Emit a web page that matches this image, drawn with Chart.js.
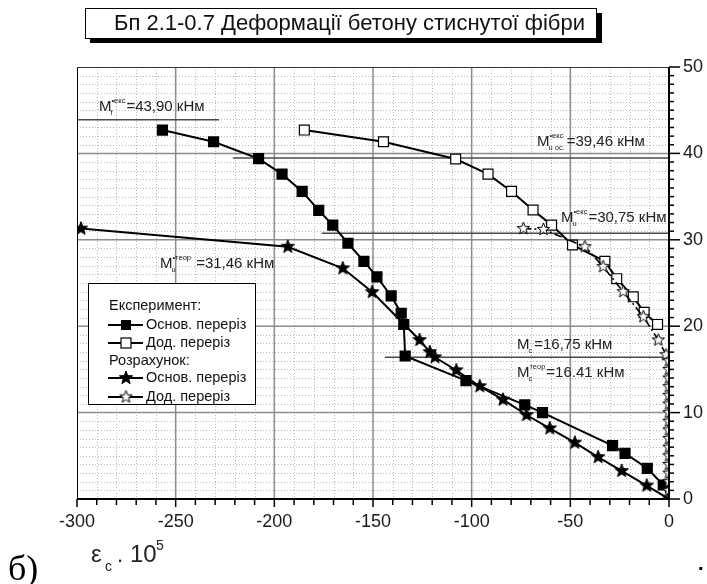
<!DOCTYPE html>
<html><head><meta charset="utf-8">
<script src="https://cdn.jsdelivr.net/npm/chart.js@4.4.1/dist/chart.umd.min.js"></script>
<style>html,body{margin:0;padding:0;background:#fff;}#wrap{position:relative;width:707px;height:584px;}</style>
</head><body><div id="wrap"><canvas id="c" width="707" height="584"></canvas></div>
<script>
// ---- data (x = εc·10^5, y = M, кНм) ----
const titleText = 'Бп 2.1-0.7 Деформації бетону стиснутої фібри';
const xTickLabels = [-300, -250, -200, -150, -100, -50, 0];
const yTickLabels = [0, 10, 20, 30, 40, 50];

const expMainX = [-256.7,-230.8,-208.0,-196.1,-185.9,-177.5,-170.4,-162.7,-154.6,-148.0,-140.8,-135.7,-134.4,-133.7,-102.9,-73.1,-64.1,-28.6,-22.3,-11.0,-2.9,0];
const expMainY = [42.7,41.35,39.4,37.6,35.6,33.4,31.7,29.6,27.5,25.7,23.5,21.5,20.2,16.55,13.7,10.9,10.0,6.17,5.29,3.55,1.62,0];

const expAddX = [-184.8,-144.7,-108.1,-91.7,-79.8,-68.9,-59.5,-48.9,-32.5,-26.5,-18.1,-12.6,-5.8];
const expAddY = [42.7,41.35,39.35,37.6,35.6,33.45,31.7,29.4,27.5,25.5,23.4,21.6,20.2];

const calcMainX = [-298,-193.2,-165.3,-150.4,-126.4,-121.2,-118.6,-107.8,-95.9,-84.1,-72.2,-60.4,-47.7,-35.9,-24.0,-11.3,0];
const calcMainY = [31.3,29.2,26.7,23.95,18.4,17.0,16.4,14.9,13.05,11.5,9.72,8.18,6.52,4.85,3.25,1.55,0];

const calcAddX = [-73.8,-63.6,-42.6,-33.4,-23.2,-13.0,-5.4,-1.5,0,0,0,0,0,0,0,0,0,0,0,0,0,0,0,0,0];
const calcAddY = [31.3,31.2,29.2,26.9,24.0,21.1,18.4,16.7,16,15,14,13,12,11,10,9,8,7,6,5,4,3,2,1,0];

// horizontal reference levels (кНм) and their x extents
const refLevels = [43.90, 39.46, 30.75, 16.41];
const refFromX  = [-300, -221, -176, -144];
const refToX    = [-228, 0, 0, 0];

const legendGroups = ['Експеримент:', 'Розрахунок:'];
const legendNames = ['Основ. перерiз', 'Дод. перерiз', 'Основ. перерiз', 'Дод. перерiз'];

const zip = (xs, ys) => xs.map((x, i) => ({x, y: ys[i]}));

function makeStar(filled, R) {
  const s = Math.ceil(R * 2 + 4);
  const c = document.createElement('canvas');
  c.width = s; c.height = s;
  const g = c.getContext('2d');
  g.beginPath();
  for (let i = 0; i < 10; i++) {
    const a = -Math.PI / 2 + i * Math.PI / 5;
    const r = i % 2 ? R * 0.42 : R;
    const px = s / 2 + r * Math.cos(a), py = s / 2 + r * Math.sin(a);
    if (i === 0) g.moveTo(px, py); else g.lineTo(px, py);
  }
  g.closePath();
  g.fillStyle = filled ? '#000' : '#fff';
  g.fill();
  g.lineWidth = 1; g.strokeStyle = '#000'; g.stroke();
  return c;
}
const starFilled = makeStar(true, 7);
const starOpen = makeStar(false, 6.5);

const FONT = '"Liberation Sans", Arial, sans-serif';

const datasets = [
  {data: zip(expMainX, expMainY), showLine: true, borderColor: '#000', borderWidth: 2,
   pointStyle: 'rect', pointRadius: expMainX.map((x, i) => i === expMainX.length - 1 ? 0 : 6.5),
   pointBackgroundColor: '#000', pointBorderColor: '#000', order: 1, clip: 0},
  {data: zip(expAddX, expAddY), showLine: true, borderColor: '#000', borderWidth: 2,
   pointStyle: 'rect', pointRadius: 7, pointBackgroundColor: '#fff', pointBorderColor: '#000', pointBorderWidth: 1.2, order: 2, clip: 0},
  {data: zip(calcMainX, calcMainY), showLine: true, borderColor: '#000', borderWidth: 2,
   pointStyle: starFilled, pointRadius: calcMainX.map((x, i) => i === calcMainX.length - 1 ? 0 : 7), order: 0, clip: 0},
  {data: zip(calcAddX, calcAddY), showLine: true, borderColor: '#000', borderWidth: 1.6, borderDash: [8, 3, 2, 3],
   pointStyle: starOpen, pointRadius: 7, order: 0, clip: 0},
];
refLevels.forEach((lv, i) => {
  datasets.push({data: [{x: refFromX[i], y: lv}, {x: refToX[i], y: lv}], showLine: true,
    borderColor: '#4a4a4a', borderWidth: 1.6, pointRadius: 0, order: 10, clip: 0});
});

const gridPlugin = {
  id: 'gridPlugin',
  beforeDatasetsDraw(chart) {
    const {ctx, chartArea: a, scales: {x, y}} = chart;
    ctx.save();
    ctx.lineWidth = 1; ctx.strokeStyle = '#b8b8b8'; ctx.setLineDash([1, 2]);
    for (let v = -290; v < 0; v += 10) {
      if (v % 50 === 0) continue;
      const px = Math.round(x.getPixelForValue(v)) + 0.5;
      ctx.beginPath(); ctx.moveTo(px, a.top); ctx.lineTo(px, a.bottom); ctx.stroke();
    }
    for (let v = 1; v < 50; v++) {
      if (v % 10 === 0) continue;
      const py = Math.round(y.getPixelForValue(v)) + 0.5;
      ctx.beginPath(); ctx.moveTo(a.left, py); ctx.lineTo(a.right, py); ctx.stroke();
    }
    ctx.setLineDash([]); ctx.strokeStyle = '#8c8c8c'; ctx.lineWidth = 1.5;
    for (let v = -250; v < 0; v += 50) {
      const px = x.getPixelForValue(v);
      ctx.beginPath(); ctx.moveTo(px, a.top); ctx.lineTo(px, a.bottom); ctx.stroke();
    }
    for (let v = 10; v < 50; v += 10) {
      const py = y.getPixelForValue(v);
      ctx.beginPath(); ctx.moveTo(a.left, py); ctx.lineTo(a.right, py); ctx.stroke();
    }
    ctx.restore();
  },
  afterDatasetsDraw(chart) {
    const {ctx, chartArea: a, scales: {x, y}} = chart;
    ctx.save();
    ctx.strokeStyle = '#000';
    ctx.lineWidth = 1;
    ctx.beginPath(); ctx.moveTo(a.left + 0.5, a.top); ctx.lineTo(a.left + 0.5, a.bottom); ctx.stroke();
    ctx.strokeStyle = '#333';
    ctx.beginPath(); ctx.moveTo(a.left, a.top + 0.5); ctx.lineTo(a.right, a.top + 0.5); ctx.stroke();
    ctx.strokeStyle = '#000'; ctx.lineWidth = 2;
    ctx.beginPath(); ctx.moveTo(a.left, a.bottom); ctx.lineTo(a.right + 1, a.bottom); ctx.stroke();
    ctx.beginPath(); ctx.moveTo(a.right, a.top); ctx.lineTo(a.right, a.bottom + 1); ctx.stroke();
    ctx.lineWidth = 1.5;
    for (let v = -300; v <= 0; v += 10) {
      const px = x.getPixelForValue(v);
      ctx.beginPath(); ctx.moveTo(px, a.bottom); ctx.lineTo(px, a.bottom + (v % 50 === 0 ? 8 : 6)); ctx.stroke();
    }
    for (let v = 0; v <= 50; v++) {
      const py = y.getPixelForValue(v);
      ctx.beginPath(); ctx.moveTo(a.right, py); ctx.lineTo(a.right + (v % 10 === 0 ? 11 : 5), py); ctx.stroke();
    }
    ctx.restore();
  }
};

function drawM(ctx, x, y, sup, sub, rest) {
  ctx.save();
  ctx.fillStyle = '#222';
  ctx.textBaseline = 'middle'; ctx.textAlign = 'left';
  ctx.font = '15px ' + FONT;
  ctx.fillText('M', x, y);
  const w = ctx.measureText('M').width;
  ctx.font = '7.5px ' + FONT;
  let sw = 0, bw = 0;
  if (sup) { ctx.fillText(sup, x + w, y - 6); sw = ctx.measureText(sup).width; }
  if (sub) { ctx.fillText(sub, x + w - 1, y + 6); bw = ctx.measureText(sub).width; }
  ctx.font = '15px ' + FONT;
  ctx.fillText(rest, x + w + Math.max(sw, bw) + 1, y);
  ctx.restore();
}

const textPlugin = {
  id: 'textPlugin',
  afterDraw(chart) {
    const ctx = chart.ctx;
    ctx.save();
    // title box
    ctx.fillStyle = '#000';
    ctx.fillRect(90, 13, 512, 30);
    ctx.fillStyle = '#fff';
    ctx.fillRect(85, 8, 512, 31);
    ctx.strokeStyle = '#000'; ctx.lineWidth = 1;
    ctx.strokeRect(85.5, 8.5, 511, 30);
    ctx.fillStyle = '#111';
    ctx.font = '22px ' + FONT;
    ctx.textBaseline = 'middle'; ctx.textAlign = 'left';
    ctx.fillText(titleText, 114, 24);

    // annotations
    drawM(ctx, 99, 107, '•екс', 'f', '=43,90 кНм');
    drawM(ctx, 537, 142, '•екс', 'u ос.', '=39,46 кНм');
    drawM(ctx, 561, 218, '•екс', 'u', '=30,75 кНм');
    drawM(ctx, 160, 264, '•теор', 'u', ' =31,46 кНм');
    drawM(ctx, 517, 345, '', 'c', '=16,75 кНм');
    drawM(ctx, 517, 373, 'теор', 'c', '=16.41 кНм');

    // legend
    ctx.fillStyle = '#fff';
    ctx.fillRect(88, 283, 167, 122);
    ctx.strokeStyle = '#000'; ctx.lineWidth = 1;
    ctx.strokeRect(88.5, 283.5, 167, 121);
    ctx.fillStyle = '#111';
    ctx.font = '14.5px ' + FONT;
    ctx.textBaseline = 'middle';
    ctx.fillText(legendGroups[0], 109, 306);
    ctx.fillText(legendGroups[1], 109, 361);
    const rows = [325, 343, 378, 397];
    rows.forEach((ry, i) => {
      ctx.strokeStyle = '#000'; ctx.lineWidth = 2;
      ctx.setLineDash([]);
      ctx.beginPath(); ctx.moveTo(108, ry); ctx.lineTo(143, ry); ctx.stroke();
      if (i === 0) { ctx.fillStyle = '#000'; ctx.fillRect(121, ry - 5, 10, 10); }
      if (i === 1) { ctx.fillStyle = '#fff'; ctx.fillRect(121, ry - 5, 10, 10); ctx.lineWidth = 1.2; ctx.strokeRect(121, ry - 5, 10, 10); }
      if (i === 2) ctx.drawImage(starFilled, 126 - starFilled.width / 2, ry - starFilled.height / 2);
      if (i === 3) ctx.drawImage(starOpen, 126 - starOpen.width / 2, ry - starOpen.height / 2);
      ctx.fillStyle = '#111';
      ctx.fillText(legendNames[i], 146, ry);
    });

    // axis title εc · 10^5
    ctx.fillStyle = '#222';
    ctx.font = '24px ' + FONT;
    ctx.textBaseline = 'alphabetic';
    ctx.fillText('ε', 91, 562);
    ctx.font = '14px ' + FONT;
    ctx.fillText('c', 105, 571);
    ctx.font = '22px ' + FONT;
    ctx.fillText('.', 117, 562);
    ctx.font = '24px ' + FONT;
    ctx.fillText('10', 130, 562);
    ctx.font = '14px ' + FONT;
    ctx.fillText('5', 156, 550);

    // б)
    ctx.fillStyle = '#000';
    ctx.font = '36px "Liberation Serif", "Times New Roman", serif';
    ctx.fillText('б)', 8, 580);
    ctx.font = 'bold 20px ' + FONT;
    ctx.fillText('.', 698, 570);
    ctx.restore();
  }
};

new Chart(document.getElementById('c'), {
  type: 'scatter',
  data: {datasets},
  options: {
    responsive: false,
    animation: false,
    layout: {padding: {left: 77, top: 67, right: 0, bottom: 0}},
    plugins: {legend: {display: false}, tooltip: {enabled: false}, title: {display: false}},
    scales: {
      x: {
        type: 'linear', min: -300, max: 0, position: 'bottom',
        grid: {display: false, drawTicks: false}, border: {display: false},
        ticks: {stepSize: 10, autoSkip: false, maxRotation: 0, padding: 12, color: '#1a1a1a',
          font: {family: FONT, size: 18},
          callback: v => xTickLabels.includes(v) ? String(v) : ''},
        afterFit: s => { s.height = 85; }
      },
      y: {
        type: 'linear', min: 0, max: 50, position: 'right',
        grid: {display: false, drawTicks: false}, border: {display: false},
        ticks: {stepSize: 1, autoSkip: false, padding: 14, color: '#1a1a1a',
          font: {family: FONT, size: 18},
          callback: v => yTickLabels.includes(v) ? String(v) : ''},
        afterFit: s => { s.width = 38; }
      }
    }
  },
  plugins: [gridPlugin, textPlugin]
});
</script></body></html>
